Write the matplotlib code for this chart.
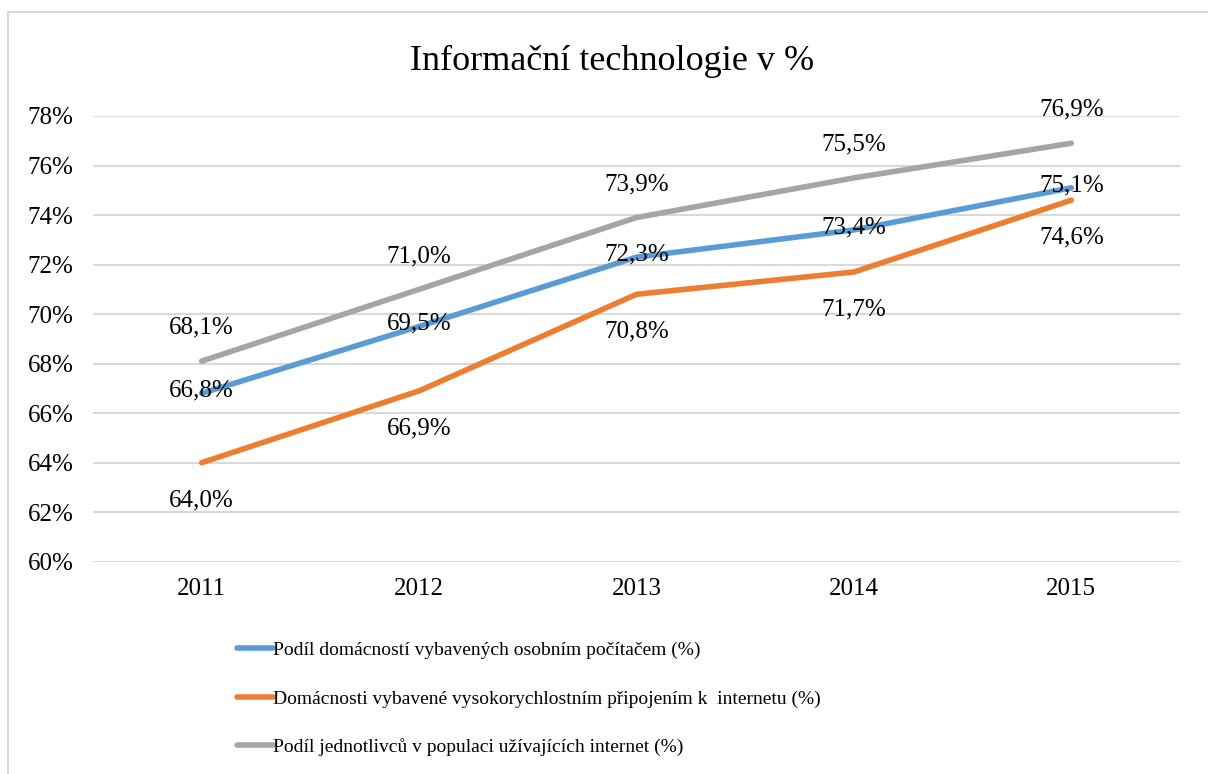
import matplotlib.pyplot as plt
from matplotlib.lines import Line2D
from matplotlib.ticker import FuncFormatter

years = ["2011", "2012", "2013", "2014", "2015"]
pc_share = [66.8, 69.5, 72.3, 73.4, 75.1]
broadband = [64.0, 66.9, 70.8, 71.7, 74.6]
internet_users = [68.1, 71.0, 73.9, 75.5, 76.9]

names = [
    "Podíl domácností vybavených osobním počítačem (%)",
    "Domácnosti vybavené vysokorychlostním připojením k  internetu (%)",
    "Podíl jednotlivců v populaci užívajících internet (%)",
]
colors = ["#5B9BD5", "#ED7D31", "#A5A5A5"]
# label offsets in points (positive = above the point)
offsets = [2, -27, 24]

plt.rcParams['font.family'] = ['Liberation Serif', 'DejaVu Serif']

fig = plt.figure(figsize=(12.08, 7.74), dpi=100)
ax = fig.add_axes([93 / 1208, 1 - 561.7 / 774, (1180 - 93) / 1208, (561.7 - 116) / 774])

x = list(range(len(years)))
series = [pc_share, broadband, internet_users]
for vals, c, name in zip(series, colors, names):
    ax.plot(x, vals, color=c, lw=4, solid_capstyle='round', label=name, zorder=3)

for vals, off in zip(series, offsets):
    for xi, v in zip(x, vals):
        ax.annotate(f"{v:.1f}%".replace(".", ","), (xi, v), xytext=(0, off),
                    textcoords='offset points', ha='center', va='center',
                    fontsize=18, color='black', zorder=4)

ax.set_xlim(-0.5, 4.5)
ax.set_ylim(60, 78)
ax.set_yticks(range(60, 79, 2))
ax.yaxis.set_major_formatter(FuncFormatter(lambda v, p: f"{int(v)}%"))
ax.set_xticks(x)
ax.set_xticklabels(years)
ax.tick_params(axis='both', length=0, labelsize=18)
ax.tick_params(axis='y', pad=14)
ax.tick_params(axis='x', pad=12)
ax.grid(axis='y', color='#D9D9D9', lw=1.5)
ax.set_axisbelow(True)
for s in ax.spines.values():
    s.set_visible(False)

fig.text(612 / 1208, 1 - 61 / 774, "Informační technologie v %", ha='center', va='center', fontsize=26)

leg = fig.legend(loc='upper left', bbox_to_anchor=(219 / 1208, 1 - 624 / 774), frameon=False,
                 fontsize=14, handlelength=1.9, handletextpad=0.0, labelspacing=1.58)

# thin light frame on left and top edges
fig.add_artist(Line2D([8 / 1208, 8 / 1208], [0, 1 - 12 / 774], transform=fig.transFigure, color='#D9D9D9', lw=1.5))
fig.add_artist(Line2D([8 / 1208, 1], [1 - 12 / 774, 1 - 12 / 774], transform=fig.transFigure, color='#D9D9D9', lw=1.5))

plt.savefig("out.png", dpi=100)
